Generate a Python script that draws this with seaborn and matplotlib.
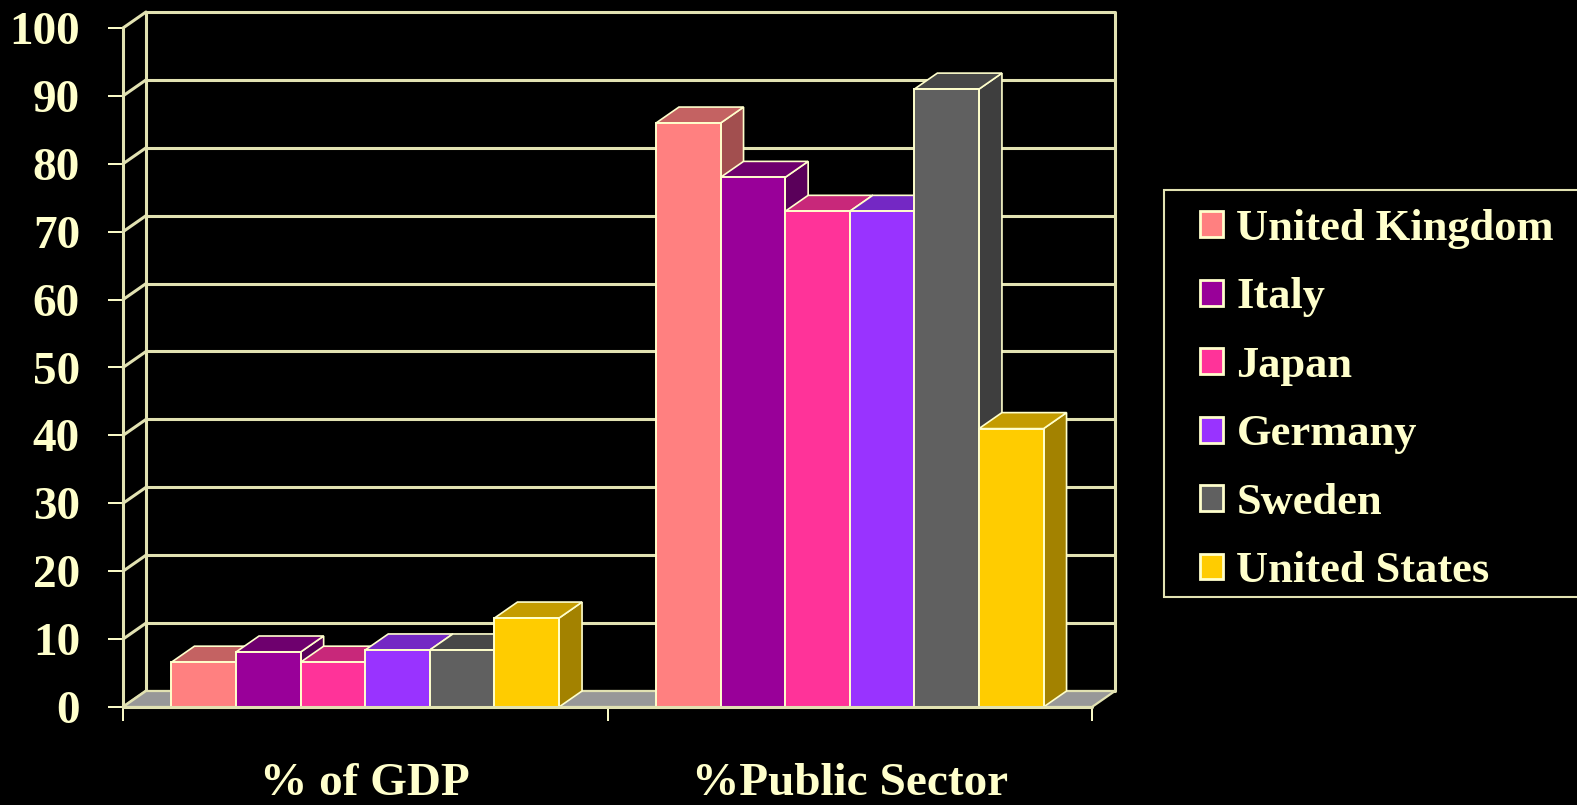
import matplotlib
matplotlib.use("Agg")
import matplotlib.pyplot as plt
from matplotlib.patches import Polygon, Patch, Rectangle
import seaborn as sns
import pandas as pd

# ---- data ----
measures = ["% of GDP", "%Public Sector"]
countries = ["United Kingdom", "Italy", "Japan", "Germany", "Sweden", "United States"]
pct_gdp = [6.6, 8.1, 6.6, 8.4, 8.4, 13.1]
pct_public = [86, 78, 73, 73, 91, 41]
y_ticks = list(range(0, 101, 10))

front_colors = ["#FF8080", "#990099", "#FF3399", "#9933FF", "#606060", "#FFCC00"]
top_colors = ["#C46262", "#6E006E", "#C8287A", "#7428C4", "#484848", "#C49C00"]
side_colors = ["#A24F4F", "#5A005A", "#A8206A", "#5F20A8", "#3E3E3E", "#A38200"]

CREAM = "#FFFFCC"
GRID = "#E2E2B2"
FLOOR = "#989898"

rows = []
for c, a, b in zip(countries, pct_gdp, pct_public):
    rows.append({"measure": measures[0], "country": c, "value": a})
    rows.append({"measure": measures[1], "country": c, "value": b})
df = pd.DataFrame(rows)

sns.set_theme(style="dark")
plt.rcParams["font.family"] = ["Liberation Serif", "DejaVu Serif"]
plt.rcParams["font.weight"] = "bold"

W, H = 1577, 805
fig = plt.figure(figsize=(W / 100, H / 100), dpi=100, facecolor="black")
ax_left, ax_bottom, ax_w, ax_h = 123, 707, 969, 679
ax = fig.add_axes([ax_left / W, (H - ax_bottom) / H, ax_w / W, ax_h / H])
ax.set_facecolor("none")

sns.barplot(data=df, x="measure", y="value", hue="country", hue_order=countries,
            order=measures, palette=front_colors, saturation=1, width=0.8,
            edgecolor=CREAM, linewidth=1.4, ax=ax, legend=False)

x0, x1 = -0.5, 1.5
ax.set_xlim(x0, x1)
ax.set_ylim(0, 100)

# depth of the 3-D box expressed in data units
dx = 23 * (x1 - x0) / ax_w
dy = 16 * 100 / ax_h

# back wall and side wall grid
for v in y_ticks:
    ax.plot([x0 + dx, x1 + dx], [v + dy, v + dy], color=GRID, lw=2.2, zorder=0.6,
            clip_on=False, solid_capstyle="butt")
    ax.plot([x0, x0 + dx], [v, v + dy], color=GRID, lw=2.2, zorder=0.6, clip_on=False)
ax.plot([x0, x0], [0, 100], color=GRID, lw=2.2, zorder=0.6, clip_on=False)
ax.plot([x0 + dx, x0 + dx], [dy, 100 + dy], color=GRID, lw=2.2, zorder=0.6, clip_on=False)
ax.plot([x1 + dx, x1 + dx], [dy, 100 + dy], color=GRID, lw=2.2, zorder=0.6, clip_on=False)

# floor
floor = Polygon([(x0, 0), (x1, 0), (x1 + dx, dy), (x0 + dx, dy)], closed=True,
                facecolor=FLOOR, edgecolor=GRID, lw=1.6, zorder=0.8, clip_on=False)
ax.add_patch(floor)

# extrude each bar: side face, top face, then the front face on top
bars = []
for hi, cont in enumerate(ax.containers):
    for p in cont.patches:
        bars.append((p.get_x(), hi, p))
bars.sort(key=lambda t: t[0])
for rank, (_, hi, p) in enumerate(bars):
    bx, bw, bh = p.get_x(), p.get_width(), p.get_height()
    z = 3 + rank * 0.1
    side = Polygon([(bx + bw, 0), (bx + bw + dx, dy), (bx + bw + dx, bh + dy), (bx + bw, bh)],
                   closed=True, facecolor=side_colors[hi], edgecolor=CREAM, lw=1.2,
                   zorder=z, clip_on=False)
    top = Polygon([(bx, bh), (bx + bw, bh), (bx + bw + dx, bh + dy), (bx + dx, bh + dy)],
                  closed=True, facecolor=top_colors[hi], edgecolor=CREAM, lw=1.2,
                  zorder=z + 0.01, clip_on=False)
    ax.add_patch(side)
    ax.add_patch(top)
    p.set_zorder(z + 0.02)
    p.set_clip_on(False)

ax.plot([x0, x1], [0, 0], color=GRID, lw=2.2, zorder=10, clip_on=False)

# axes, ticks and labels
for s in ax.spines.values():
    s.set_visible(False)
ax.grid(False)
ax.set_yticks(y_ticks)
ax.set_yticklabels([str(v) for v in y_ticks])
ax.tick_params(axis="y", which="major", left=True, length=11, width=1.4, color=CREAM,
               pad=20, labelsize=34, labelcolor=CREAM)
ax.set_xticks([0, 1])
ax.set_xticklabels(measures)
ax.set_xticks([x0, 0.5, x1], minor=True)
ax.tick_params(axis="x", which="major", bottom=True, length=0, pad=40, labelsize=34,
               labelcolor=CREAM)
ax.tick_params(axis="x", which="minor", bottom=True, length=10, width=1.4, color=CREAM)
for lab in ax.get_xticklabels() + ax.get_yticklabels():
    lab.set_fontweight("bold")
ax.set_xlabel("")
ax.set_ylabel("")

# legend box (runs off the right edge of the figure)
box = Rectangle((1164 / W, 1 - 597 / H), 0.5, (597 - 190) / H, transform=fig.transFigure,
                facecolor="black", edgecolor=GRID, lw=1.5, zorder=0)
fig.add_artist(box)

handles = [Patch(facecolor=c, edgecolor=CREAM, lw=2.0) for c in front_colors]
leg = fig.legend(handles, countries, loc="upper left",
                 bbox_to_anchor=(1200 / W, 1 - 209 / H), borderaxespad=0, borderpad=0,
                 frameon=False, fontsize=32,
                 handlelength=0.52, handleheight=0.52, handletextpad=0.3,
                 labelspacing=0.64, labelcolor=CREAM)
leg.set_zorder(5)
for t in leg.get_texts():
    t.set_fontweight("bold")

fig.savefig("out.png", dpi=100, facecolor="black")
